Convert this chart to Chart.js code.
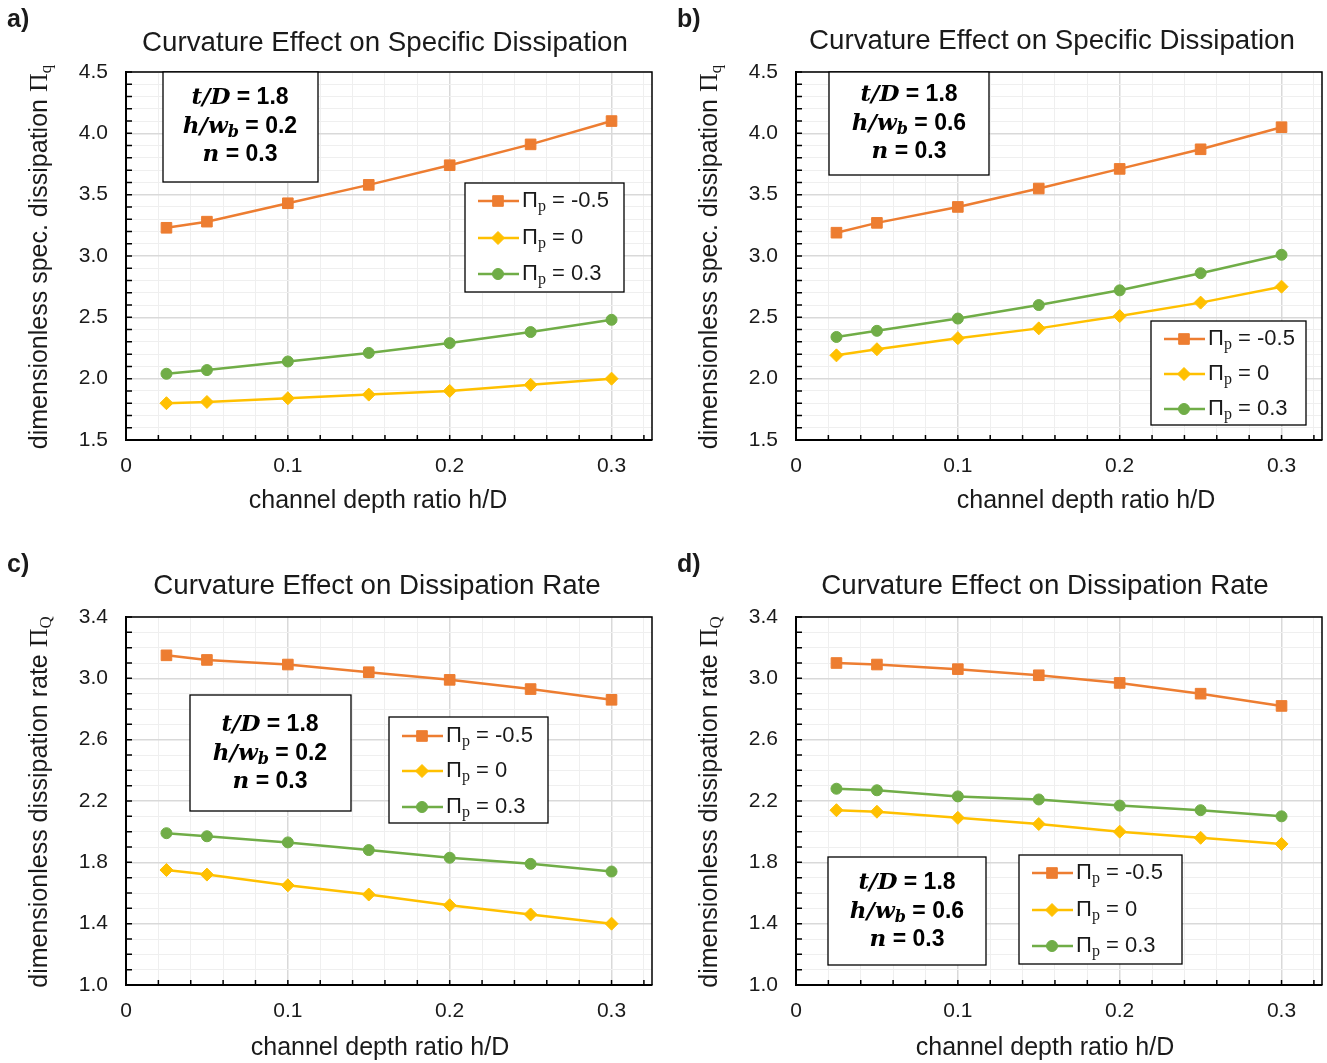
<!DOCTYPE html>
<html>
<head>
<meta charset="utf-8">
<script src="https://cdn.jsdelivr.net/npm/chart.js@4.4.1/dist/chart.umd.min.js"></script>
<style>
    body { margin: 0; background: #fff; width: 1327px; height: 1063px; position: relative; overflow: hidden; }
    canvas { position: absolute; }
</style>
</head>
<body>
<canvas id="chartA" width="657" height="518" style="left:0px;top:0px"></canvas>
<canvas id="chartB" width="657" height="518" style="left:670px;top:0px"></canvas>
<canvas id="chartC" width="657" height="518" style="left:0px;top:545px"></canvas>
<canvas id="chartD" width="657" height="518" style="left:670px;top:545px"></canvas>
<script>
// channel depth ratio h/D
const depthRatio = [0.025, 0.05, 0.1, 0.15, 0.2, 0.25, 0.3];
const piPLabels = ['-0.5', '0', '0.3'];

// a) specific dissipation, h/wb = 0.2
const specA_m05 = [3.23, 3.28, 3.43, 3.58, 3.74, 3.91, 4.10];
const specA_0   = [1.80, 1.81, 1.84, 1.87, 1.90, 1.95, 2.00];
const specA_03  = [2.04, 2.07, 2.14, 2.21, 2.29, 2.38, 2.48];

// b) specific dissipation, h/wb = 0.6
const specB_m05 = [3.19, 3.27, 3.40, 3.55, 3.71, 3.87, 4.05];
const specB_0   = [2.19, 2.24, 2.33, 2.41, 2.51, 2.62, 2.75];
const specB_03  = [2.34, 2.39, 2.49, 2.60, 2.72, 2.86, 3.01];

// c) dissipation rate, h/wb = 0.2
const rateC_m05 = [3.15, 3.12, 3.09, 3.04, 2.99, 2.93, 2.86];
const rateC_0   = [1.75, 1.72, 1.65, 1.59, 1.52, 1.46, 1.40];
const rateC_03  = [1.99, 1.97, 1.93, 1.88, 1.83, 1.79, 1.74];

// d) dissipation rate, h/wb = 0.6
const rateD_m05 = [3.10, 3.09, 3.06, 3.02, 2.97, 2.90, 2.82];
const rateD_0   = [2.14, 2.13, 2.09, 2.05, 2.00, 1.96, 1.92];
const rateD_03  = [2.28, 2.27, 2.23, 2.21, 2.17, 2.14, 2.10];

const SANS = '"Liberation Sans", Arial, sans-serif';
const SERIF = '"Liberation Serif", "DejaVu Serif", serif';
const MATH = '"DejaVu Serif", serif';
const TEXT = '#1a1a1a';

const seriesStyle = [
    { color: '#ED7D31', pointStyle: 'rect', radius: 7.5 },
    { color: '#FFC000', pointStyle: 'rectRot', radius: 6.5 },
    { color: '#70AD47', pointStyle: 'circle', radius: 5.5 }
];

function isMultiple(v, base, step) {
    const k = (v - base) / step;
    return Math.abs(k - Math.round(k)) < 1e-6;
}

// draws a row of text pieces with different fonts / baseline shifts
function richText(ctx, segs, x, y, align) {
    let total = 0;
    segs.forEach(s => { ctx.font = s.f; s.w = ctx.measureText(s.t).width; total += s.w; });
    let cx = align === 'center' ? x - total / 2 : x;
    ctx.textAlign = 'left';
    ctx.textBaseline = 'middle';
    segs.forEach(s => {
        ctx.font = s.f;
        ctx.fillText(s.t, cx, y + (s.dy || 0));
        cx += s.w;
    });
}

const decor = {
    id: 'decor',
    afterDraw(chart, args, o) {
        const ctx = chart.ctx;
        const area = chart.chartArea;
        const xs = chart.scales.x, ys = chart.scales.y;
        ctx.save();

        // inner tick marks
        ctx.strokeStyle = '#000';
        ctx.lineWidth = 1.5;
        ctx.beginPath();
        xs.ticks.forEach(t => {
            if (t.value <= 0) return;
            const px = xs.getPixelForValue(t.value);
            ctx.moveTo(px, area.bottom);
            ctx.lineTo(px, area.bottom - 5);
        });
        ys.ticks.forEach(t => {
            const py = ys.getPixelForValue(t.value);
            ctx.moveTo(area.left, py);
            ctx.lineTo(area.left + 6, py);
        });
        ctx.stroke();

        // top and right frame
        ctx.beginPath();
        ctx.moveTo(area.left, area.top);
        ctx.lineTo(area.right, area.top);
        ctx.lineTo(area.right, area.bottom);
        ctx.stroke();

        ctx.fillStyle = TEXT;
        // panel letter
        ctx.font = 'bold 25px ' + SANS;
        ctx.textAlign = 'left';
        ctx.textBaseline = 'middle';
        ctx.fillText(o.letter, 7, 20);

        // title
        ctx.font = '27.7px ' + SANS;
        ctx.textAlign = 'center';
        ctx.fillText(o.title, o.titleX, o.titleY);

        // x title
        ctx.font = '25px ' + SANS;
        ctx.fillText('channel depth ratio h/D', o.xTitleX, o.xTitleY);

        // y title
        ctx.save();
        ctx.translate(40, 257);
        ctx.rotate(-Math.PI / 2);
        richText(ctx, [
            { t: o.yTitle + ' ', f: '25px ' + SANS },
            { t: 'Π', f: '26px ' + SERIF },
            { t: o.ySub, f: '17px ' + SERIF, dy: 7 }
        ], 0, 0, 'center');
        ctx.restore();

        // parameter box
        const ib = o.info;
        ctx.fillStyle = '#fff';
        ctx.fillRect(ib.x, ib.y, ib.w, ib.h);
        ctx.strokeStyle = '#000';
        ctx.lineWidth = 1.3;
        ctx.strokeRect(ib.x, ib.y, ib.w, ib.h);
        ctx.fillStyle = '#000';
        const mathF = 'bold italic 23px ' + MATH;
        const numF = 'bold 23px ' + SANS;
        richText(ctx, [{ t: 't/D', f: mathF }, { t: ' = 1.8', f: numF }], ib.cx, ib.rows[0], 'center');
        richText(ctx, [{ t: 'h/w', f: mathF }, { t: 'b', f: 'bold italic 16px ' + MATH, dy: 6 }, { t: ' = ' + o.hw, f: numF }], ib.cx, ib.rows[1], 'center');
        richText(ctx, [{ t: 'n', f: mathF }, { t: ' = 0.3', f: numF }], ib.cx, ib.rows[2], 'center');

        // legend
        const lg = o.legend;
        ctx.fillStyle = '#fff';
        ctx.fillRect(lg.x, lg.y, lg.w, lg.h);
        ctx.strokeStyle = '#000';
        ctx.lineWidth = 1.3;
        ctx.strokeRect(lg.x, lg.y, lg.w, lg.h);
        chart.data.datasets.forEach((ds, i) => {
            const ry = lg.rows[i];
            ctx.strokeStyle = ds.borderColor;
            ctx.lineWidth = 2.5;
            ctx.beginPath();
            ctx.moveTo(lg.x + 13, ry);
            ctx.lineTo(lg.x + 54, ry);
            ctx.stroke();
            ctx.fillStyle = ds.borderColor;
            ctx.strokeStyle = ds.borderColor;
            ctx.lineWidth = 1;
            Chart.helpers.drawPoint(ctx, { pointStyle: ds.pointStyle, radius: ds.pointRadius, rotation: 0, borderWidth: 1 }, lg.x + 33, ry);
            ctx.fillStyle = TEXT;
            richText(ctx, [
                { t: 'Π', f: '22px ' + SANS },
                { t: 'p', f: '16px ' + SERIF, dy: 6 },
                { t: ' = ' + piPLabels[i], f: '22px ' + SANS }
            ], lg.x + 57, ry, 'left');
        });

        ctx.restore();
    }
};

function makeChart(id, series, yMin, yMax, yMajorStep, deco) {
    const datasets = series.map((vals, i) => ({
        label: 'Πp = ' + piPLabels[i],
        data: depthRatio.map((x, j) => ({ x: x, y: vals[j] })),
        borderColor: seriesStyle[i].color,
        backgroundColor: seriesStyle[i].color,
        pointBackgroundColor: seriesStyle[i].color,
        pointBorderColor: seriesStyle[i].color,
        pointStyle: seriesStyle[i].pointStyle,
        pointRadius: seriesStyle[i].radius,
        pointBorderWidth: 1,
        borderWidth: 2.5,
        tension: 0
    }));

    return new Chart(document.getElementById(id), {
        type: 'line',
        data: { datasets: datasets },
        options: {
            responsive: false,
            animation: false,
            layout: { autoPadding: false, padding: { top: 72, left: 0, right: 5, bottom: 0 } },
            plugins: {
                legend: { display: false },
                title: { display: false },
                tooltip: { enabled: false },
                decor: deco
            },
            scales: {
                x: {
                    type: 'linear',
                    min: 0,
                    max: 0.325,
                    afterFit: s => { s.height = 78; s.paddingRight = 0; },
                    border: { display: true, color: '#000', width: 2 },
                    grid: {
                        drawTicks: false,
                        color: c => isMultiple(c.tick.value, 0, 0.1) ? '#d9d9d9' : '#efefef',
                        lineWidth: c => isMultiple(c.tick.value, 0, 0.1) ? 1.5 : 1
                    },
                    ticks: {
                        stepSize: 0.02,
                        includeBounds: false,
                        autoSkip: false,
                        maxRotation: 0,
                        padding: 14,
                        color: TEXT,
                        font: { family: SANS, size: 21 },
                        callback: v => isMultiple(v, 0, 0.1) ? (Math.abs(v) < 1e-9 ? '0' : v.toFixed(1)) : ''
                    }
                },
                y: {
                    min: yMin,
                    max: yMax,
                    afterFit: s => { s.width = 126; },
                    border: { display: true, color: '#000', width: 2 },
                    grid: {
                        drawTicks: false,
                        color: c => isMultiple(c.tick.value, yMin, yMajorStep) ? '#d9d9d9' : '#efefef',
                        lineWidth: c => isMultiple(c.tick.value, yMin, yMajorStep) ? 1.5 : 1
                    },
                    ticks: {
                        stepSize: 0.1,
                        autoSkip: false,
                        padding: 18,
                        color: TEXT,
                        font: { family: SANS, size: 21 },
                        callback: v => isMultiple(v, yMin, yMajorStep) ? v.toFixed(1) : ''
                    }
                }
            }
        },
        plugins: [decor]
    });
}

makeChart('chartA', [specA_m05, specA_0, specA_03], 1.5, 4.5, 0.5, {
    letter: 'a)', title: 'Curvature Effect on Specific Dissipation', titleX: 385, titleY: 43,
    xTitleX: 378, xTitleY: 501,
    yTitle: 'dimensionless spec. dissipation', ySub: 'q', hw: '0.2',
    info: { x: 163, y: 72, w: 155, h: 110, cx: 240, rows: [98, 127, 155] },
    legend: { x: 465, y: 183, w: 159, h: 109, rows: [201, 238, 274] }
});

makeChart('chartB', [specB_m05, specB_0, specB_03], 1.5, 4.5, 0.5, {
    letter: 'b)', title: 'Curvature Effect on Specific Dissipation', titleX: 382, titleY: 41,
    xTitleX: 416, xTitleY: 501,
    yTitle: 'dimensionless spec. dissipation', ySub: 'q', hw: '0.6',
    info: { x: 159, y: 72, w: 160, h: 103, cx: 239, rows: [95, 124, 152] },
    legend: { x: 481, y: 321, w: 155, h: 104, rows: [339, 374, 409] }
});

makeChart('chartC', [rateC_m05, rateC_0, rateC_03], 1.0, 3.4, 0.4, {
    letter: 'c)', title: 'Curvature Effect on Dissipation Rate', titleX: 377, titleY: 41,
    xTitleX: 380, xTitleY: 503,
    yTitle: 'dimensionless dissipation rate', ySub: 'Q', hw: '0.2',
    info: { x: 190, y: 150, w: 161, h: 116, cx: 270, rows: [180, 209, 237] },
    legend: { x: 389, y: 172, w: 159, h: 106, rows: [191, 226, 262] }
});

makeChart('chartD', [rateD_m05, rateD_0, rateD_03], 1.0, 3.4, 0.4, {
    letter: 'd)', title: 'Curvature Effect on Dissipation Rate', titleX: 375, titleY: 41,
    xTitleX: 375, xTitleY: 503,
    yTitle: 'dimensionless dissipation rate', ySub: 'Q', hw: '0.6',
    info: { x: 158, y: 312, w: 158, h: 108, cx: 237, rows: [338, 367, 395] },
    legend: { x: 349, y: 310, w: 163, h: 109, rows: [328, 365, 401] }
});
</script>
</body>
</html>
